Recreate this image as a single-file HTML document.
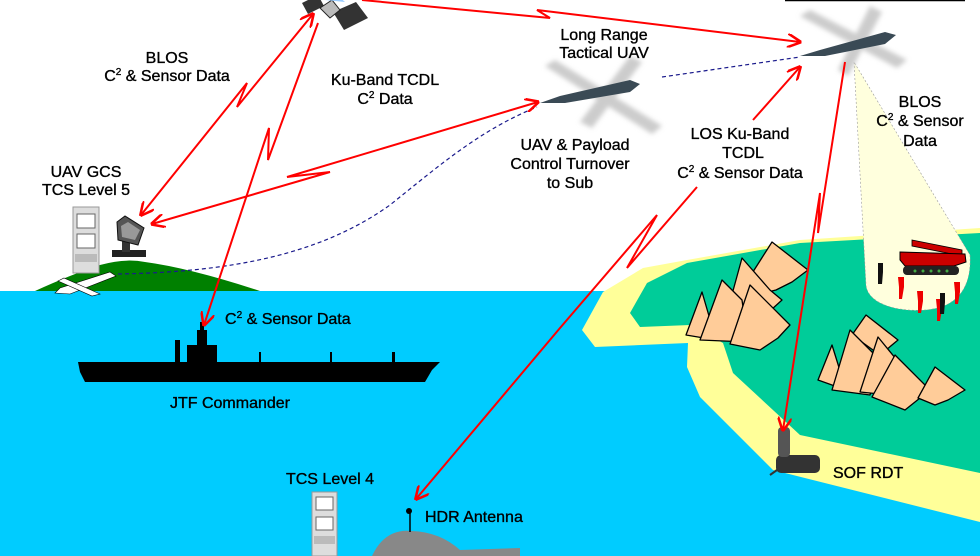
<!DOCTYPE html>
<html><head><meta charset="utf-8"><style>
html,body{margin:0;padding:0;background:#fff}
svg{display:block}
text{font-family:"Liberation Sans",Arial,sans-serif;font-size:16px;fill:#000;stroke:#000;stroke-width:0.35}
</style></head><body>
<svg width="980" height="556" viewBox="0 0 980 556" xmlns="http://www.w3.org/2000/svg">
<defs>
<marker id="ah" viewBox="0 0 10 10" refX="9" refY="5" markerWidth="7" markerHeight="7" orient="auto-start-reverse"><path d="M0,0 L10,5 L0,10" fill="none" stroke="#f00" stroke-width="1.8"/></marker>
<filter id="bl"><feGaussianBlur stdDeviation="2.5"/></filter>
</defs>
<rect x="0" y="291" width="980" height="265" fill="#00ccff"/>
<polygon points="603,292 582,330 595,347 688,343 687,367 700,397 773,470 980,522 980,228 800,240 687,260 643,268" fill="#ffff99"/>
<polygon points="687,263 647,283 630,313 640,327 690,325 723,343 733,373 800,435 980,473 980,233 800,243" fill="#00cc99"/>
<!-- spotlight -->
<path d="M854,62 L866,285 C868,305 900,312 925,310 C955,308 972,290 970,255 Z" fill="#ffffdd" stroke="#999" stroke-width="0.6" stroke-dasharray="2,2"/>
<g>
<polygon points="912,240 962,250 962,256 912,246" fill="#c00" stroke="#000" stroke-width="0.8"/>
<polygon points="900,252 965,254 966,262 954,266 905,266 900,260" fill="#c00" stroke="#000" stroke-width="1"/>
<rect x="903" y="266" width="56" height="9" rx="4" fill="#222"/>
<g fill="#4a4"><circle cx="915" cy="271" r="1.5"/><circle cx="923" cy="271" r="1.5"/><circle cx="931" cy="271" r="1.5"/><circle cx="939" cy="271" r="1.5"/><circle cx="947" cy="271" r="1.5"/></g>
</g>
<g fill="#e00">
<path d="M898,277 h6 v10 l-2,12 h-3 l0,-12 z"/><path d="M954,282 h6 v10 l-2,12 h-3 l0,-12 z"/><path d="M917,291 h6 v10 l-2,12 h-3 l0,-12 z"/><path d="M936,299 h6 v10 l-2,12 h-3 l0,-12 z"/>
</g>
<g fill="#111"><path d="M878,263 h5 v9 l-1,12 h-4 l0,-12 z"/><path d="M940,293 h5 v9 l-1,12 h-4 l0,-12 z"/></g>
<g fill="#ffcc99" stroke="#000" stroke-width="1.3" stroke-linejoin="round">
<polygon points="735,300 772,242 808,270 792,282 776,290"/>
<polygon points="725,320 742,258 770,290 782,300 760,320"/>
<polygon points="686,335 702,292 716,340"/>
<polygon points="700,340 722,280 742,300 748,342"/>
<polygon points="730,344 750,285 790,325 778,338 760,350"/>
</g>
<g fill="#ffcc99" stroke="#000" stroke-width="1.3" stroke-linejoin="round">
<polygon points="852,335 866,315 898,340 880,355"/>
<polygon points="818,380 832,345 846,390"/>
<polygon points="832,390 850,330 880,360 870,395"/>
<polygon points="860,392 878,337 905,370 890,395"/>
<polygon points="872,397 895,355 930,390 905,410"/>
<polygon points="918,398 935,367 965,390 948,400 935,405"/>
</g>
<g>
<rect x="776" y="455" width="44" height="18" rx="5" fill="#333"/>
<rect x="778" y="427" width="12" height="30" rx="4" fill="#555"/>
<line x1="777" y1="470" x2="770" y2="475" stroke="#333" stroke-width="2"/>
</g>
<path d="M35,291 Q70,275 100,265 Q125,258 145,262 Q190,268 260,291 Z" fill="#008000"/>
<polygon points="55,293 60,288 110,272 116,276 70,294" fill="#fff" stroke="#000" stroke-width="0.6"/>
<polygon points="58,281 64,278 100,294 92,296" fill="#fff" stroke="#000" stroke-width="0.6"/>
<rect x="73" y="207" width="26" height="66" fill="#ddd" stroke="#999"/>
<rect x="77" y="214" width="18" height="14" fill="#fff" stroke="#666"/>
<rect x="77" y="234" width="18" height="14" fill="#fff" stroke="#666"/>
<rect x="75" y="254" width="22" height="8" fill="#bbb"/>
<g>
<rect x="112" y="250" width="34" height="7" fill="#222"/>
<rect x="122" y="230" width="8" height="22" fill="#333"/>
<polygon points="117,222 125,216 144,228 138,245 118,240" fill="#555" stroke="#111"/>
<polygon points="121,226 128,222 140,230 135,240 122,237" fill="#999"/>
</g>
<g fill="#000">
<path d="M78,362 L440,362 L432,370 L425,382 L85,382 L80,372 Z"/>
<rect x="187" y="345" width="30" height="17"/>
<rect x="197" y="330" width="10" height="16"/>
<rect x="200" y="322" width="4" height="10"/>
<rect x="175" y="340" width="5" height="22"/>
<rect x="259" y="352" width="2" height="10"/>
<rect x="330" y="352" width="2" height="10"/>
<rect x="392" y="352" width="3" height="10"/>
</g>
<rect x="312" y="492" width="25" height="64" fill="#ddd" stroke="#999"/>
<rect x="316" y="497" width="17" height="13" fill="#fff" stroke="#666"/>
<rect x="316" y="517" width="17" height="13" fill="#fff" stroke="#666"/>
<rect x="314" y="536" width="21" height="8" fill="#bbb"/>
<path d="M372,556 Q385,528 412,531 Q440,532 460,550 L520,548 L520,556 Z" fill="#888"/>
<line x1="410" y1="513" x2="410" y2="532" stroke="#000" stroke-width="1.5"/>
<circle cx="409" cy="511" r="3" fill="#000"/>
<g>
<polygon points="302,3 318,-5 324,6 308,14" fill="#333"/>
<polygon points="333,12 356,2 368,18 344,30" fill="#333"/>
<polygon points="320,8 332,0 340,10 330,18" fill="#bbb" stroke="#222"/>
<polygon points="325,0 337,-5 345,2" fill="#9cf"/>
</g>
<g>
<g filter="url(#bl)" fill="#ccc"><polygon points="545,66 555,60 662,126 652,134"/><polygon points="580,122 592,128 642,62 630,56"/></g>
<polygon points="540,103 560,96 630,80 640,84 630,92 565,103" fill="#3a4a55"/>
<g filter="url(#bl)" fill="#ccc"><polygon points="800,16 810,10 907,60 897,68"/><polygon points="838,70 848,76 882,12 870,6"/></g>
<polygon points="800,56 820,50 885,32 896,35 885,44 825,56" fill="#3a4a55"/>
</g>
<line x1="785" y1="0.5" x2="965" y2="0.5" stroke="#000" stroke-width="1.5"/>
<g fill="none" stroke="#1a1a8c" stroke-width="1.2" stroke-dasharray="4,3">
<path d="M118,274 C230,272 320,255 390,205 C440,165 480,130 537,107"/>
<line x1="662" y1="77" x2="800" y2="57"/>
</g>
<g fill="none" stroke="#f00" stroke-width="2" stroke-linejoin="miter">
<polyline points="313,14 237,107 247,83 141,215" marker-start="url(#ah)" marker-end="url(#ah)"/>
<polyline points="318,23 268,160 269,128 204,325" marker-end="url(#ah)"/>
<polyline points="538,102 287,177 330,172 152,224" marker-start="url(#ah)" marker-end="url(#ah)"/>
<polyline points="362,0 550,18 537,10 800,42" marker-end="url(#ah)"/>
<line x1="753" y1="120" x2="800" y2="67" marker-end="url(#ah)"/>
<polyline points="697,187 627,268 657,215 560,328 416,499" marker-end="url(#ah)"/>
<polyline points="845,62 818,233 820,193 783,430" marker-end="url(#ah)"/>
</g>
<g text-anchor="middle">
<text x="167" y="63">BLOS</text>
<text x="167" y="81">C<tspan font-size="10" dy="-6">2</tspan><tspan dy="6"> &amp; Sensor Data</tspan></text>
<text x="385" y="85">Ku-Band TCDL</text>
<text x="385" y="104">C<tspan font-size="10" dy="-6">2</tspan><tspan dy="6"> Data</tspan></text>
<text x="86" y="177">UAV GCS</text>
<text x="86" y="195">TCS Level 5</text>
<text x="604" y="40">Long Range</text>
<text x="604" y="58">Tactical UAV</text>
<text x="575" y="150">UAV &amp; Payload</text>
<text x="570" y="169">Control Turnover</text>
<text x="570" y="188">to Sub</text>
<text x="740" y="139">LOS Ku-Band</text>
<text x="743" y="158">TCDL</text>
<text x="740" y="178">C<tspan font-size="10" dy="-6">2</tspan><tspan dy="6"> &amp; Sensor Data</tspan></text>
<text x="920" y="107">BLOS</text>
<text x="920" y="126">C<tspan font-size="10" dy="-6">2</tspan><tspan dy="6"> &amp; Sensor</tspan></text>
<text x="920" y="146">Data</text>
<text x="230" y="408">JTF Commander</text>
<text x="330" y="484">TCS Level 4</text>
</g>
<text x="225" y="324">C<tspan font-size="10" dy="-6">2</tspan><tspan dy="6"> &amp; Sensor Data</tspan></text>
<text x="425" y="522">HDR Antenna</text>
<text x="833" y="478">SOF RDT</text>
</svg>
</body></html>
